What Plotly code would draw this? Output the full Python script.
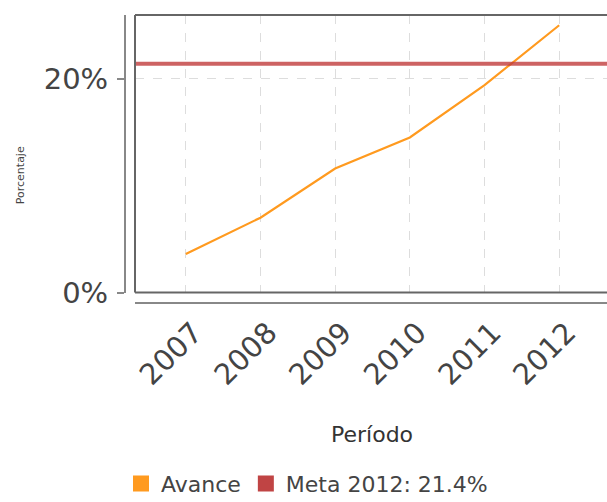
import plotly.graph_objects as go

periods = ["2007", "2008", "2009", "2010", "2011", "2012"]
avance = [3.6, 7.0, 11.6, 14.5, 19.4, 25.0]
meta_value = 21.4
meta_label = "Meta 2012: 21.4%"
avance_label = "Avance"
y_ticks = [0, 20]
y_tick_text = ["0%", "20%"]

ORANGE = "#FF9A1F"
RED = "#C04444"
FONT = "DejaVu Sans"

W, H = 607, 502
L, R, T = 125, 0, 14.5
paper_bottom = 303
B = H - paper_bottom
pw = W - L - R
ph = H - T - B


def px_x(p):
    return (p - L) / pw


def px_y(p):
    return (paper_bottom - p) / ph


fig = go.Figure()
fig.add_trace(go.Scatter(x=periods, y=avance, mode="lines",
                         line=dict(color=ORANGE, width=2.2), showlegend=False))
# legend entries
fig.add_trace(go.Scatter(x=[None], y=[None], mode="markers", name=avance_label,
                         marker=dict(symbol="square", size=16, color=ORANGE)))
fig.add_trace(go.Scatter(x=[None], y=[None], mode="markers", name=meta_label,
                         marker=dict(symbol="square", size=16, color=RED)))

fig.add_hline(y=meta_value, line=dict(color="rgba(192,60,60,0.8)", width=4))

# plot border (top, bottom, left)
for (x0, y0, x1, y1) in [(0, 1, 1, 1), (0, 0, 1, 0), (0, 0, 0, 1)]:
    fig.add_shape(type="line", xref="x domain", yref="y domain",
                  x0=x0, y0=y0, x1=x1, y1=y1,
                  line=dict(color="#666", width=2))

fig.update_layout(
    width=W, height=H,
    margin=dict(l=L, r=R, t=T, b=B, autoexpand=False),
    plot_bgcolor="white", paper_bgcolor="white",
    font=dict(family=FONT, color="#444"),
    xaxis=dict(type="category", range=[-0.68, 5.64],
               domain=[10 / pw, 1], anchor="free", position=0,
               automargin=False,
               showline=True, linecolor="#888", linewidth=2,
               ticks="", tickangle=-45, ticklabelshift=8,
               tickfont=dict(size=29, color="#444", family=FONT),
               showgrid=True, gridcolor="#ddd", griddash="dash", gridwidth=1,
               zeroline=False),
    yaxis=dict(range=[0, 25.96], domain=[10.5 / ph, 1],
               anchor="free", position=0, automargin=False,
               tickvals=y_ticks, ticktext=y_tick_text,
               showline=True, linecolor="#888", linewidth=2,
               ticks="outside", ticklen=7, tickwidth=2, tickcolor="#888",
               ticklabelstandoff=3,
               tickfont=dict(size=29, color="#444", family=FONT),
               showgrid=True, gridcolor="#ddd", griddash="dash", gridwidth=1,
               zeroline=False),
    legend=dict(orientation="h", x=px_x(307), xanchor="center",
                y=px_y(484), yanchor="middle",
                font=dict(size=22, color="#444", family=FONT),
                bgcolor="rgba(0,0,0,0)", itemclick=False),
    annotations=[
        dict(text="Porcentaje", textangle=-90, showarrow=False,
             xref="paper", yref="paper",
             x=px_x(20), y=px_y(175),
             xanchor="center", yanchor="middle",
             font=dict(size=11, color="#444", family=FONT)),
        dict(text="Período", showarrow=False,
             xref="paper", yref="paper",
             x=px_x(372), y=px_y(435),
             xanchor="center", yanchor="middle",
             font=dict(size=22, color="#333", family=FONT)),
    ],
)

fig.write_html("out.html", config={"displayModeBar": False},
               post_script="document.body.style.margin='0';"
                           "document.body.style.overflow='hidden';")
